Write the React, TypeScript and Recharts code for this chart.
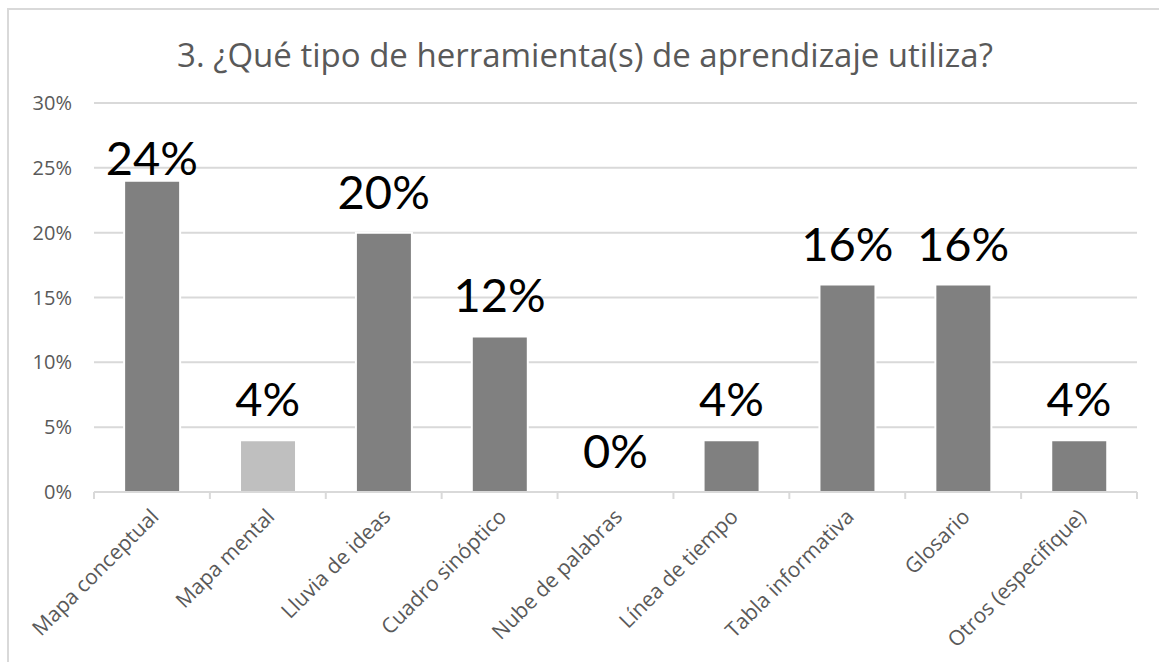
import React from 'react';
import { ComposedChart, Bar, Line, XAxis, YAxis, CartesianGrid, Cell, LabelList } from 'recharts';

const categories = [
  'Mapa conceptual',
  'Mapa mental',
  'Lluvia de ideas',
  'Cuadro sinóptico',
  'Nube de palabras',
  'Línea de tiempo',
  'Tabla informativa',
  'Glosario',
  'Otros (especifique)',
];
const percentages = [24, 4, 20, 12, 0, 4, 16, 16, 4];
const yTicks = [0, 5, 10, 15, 20, 25, 30];
const highlighted = 'Mapa mental';

const data = categories.map((name, i) => ({ name, value: percentages[i] }));

const GRID = '#d9d9d9';
const TEXT = '#595959';
const PLOT_TOP = 103;
const BAND = 1043 / categories.length;

const XTick = (props: any) => {
  const { x, y, payload, index } = props;
  const axisY = y - 8;
  const tx = x + 8;
  const ty = axisY + 26;
  return (
    <g>
      <line x1={x - BAND / 2} y1={axisY} x2={x - BAND / 2} y2={axisY + 7} stroke={GRID} strokeWidth={2} />
      {index === categories.length - 1 && (
        <line x1={x + BAND / 2} y1={axisY} x2={x + BAND / 2} y2={axisY + 7} stroke={GRID} strokeWidth={2} />
      )}
      <text
        x={tx}
        y={ty}
        textAnchor="end"
        transform={`rotate(-45 ${tx} ${ty})`}
        fill={TEXT}
        fontSize={21}
        fontFamily="'Open Sans', sans-serif"
      >
        {payload.value}
      </text>
    </g>
  );
};

const YTick = (props: any) => {
  const { x, y, payload } = props;
  return (
    <text x={x} y={y + 7} textAnchor="end" fill={TEXT} fontSize={20} fontFamily="'Open Sans', sans-serif">
      {`${payload.value}%`}
    </text>
  );
};

// value label above each bar (drawn from an invisible line so 0% shows too)
const ValueLabel = (props: any) => {
  const { x, y, value } = props;
  const baseline = Math.max(y - 24, PLOT_TOP + 72);
  return (
    <text x={x} y={baseline} textAnchor="middle" fill="#000" fontSize={47} fontFamily="Lato, sans-serif">
      {`${value}%`}
    </text>
  );
};

const App: React.FC = () => {
  return (
    <div style={{ position: 'absolute', left: 0, top: 0, width: 1159, height: 662, background: '#fff', overflow: 'hidden' }}>
      {/* chart frame */}
      <div style={{ position: 'absolute', left: 7, top: 8, width: 1200, height: 700, borderTop: `2px solid ${GRID}`, borderLeft: `2px solid ${GRID}` }} />
      <div
        style={{
          position: 'absolute',
          left: 0,
          width: 1170,
          top: 33,
          textAlign: 'center',
          fontFamily: "'Open Sans', sans-serif",
          fontSize: 33,
          lineHeight: '44px',
          color: TEXT,
        }}
      >
        3. ¿Qué tipo de herramienta(s) de aprendizaje utiliza?
      </div>
      <div style={{ position: 'absolute', left: 0, top: 0 }}>
        <ComposedChart width={1159} height={662} data={data} margin={{ top: PLOT_TOP, right: 22, left: 0, bottom: 0 }} barCategoryGap="26%">
          <CartesianGrid vertical={false} stroke={GRID} strokeWidth={2} />
          <YAxis
            domain={[0, 30]}
            ticks={yTicks}
            width={94}
            axisLine={false}
            tickLine={false}
            tickSize={0}
            tickMargin={22}
            tick={<YTick />}
            interval={0}
          />
          <XAxis
            dataKey="name"
            height={170}
            axisLine={{ stroke: GRID, strokeWidth: 2 }}
            tickLine={false}
            tickSize={0}
            tickMargin={8}
            interval={0}
            tick={<XTick />}
          />
          <Bar dataKey="value" isAnimationActive={false} stroke="#fff" strokeWidth={2}>
            {data.map((d) => (
              <Cell key={d.name} fill={d.name === highlighted ? '#bfbfbf' : '#808080'} />
            ))}
          </Bar>
          <Line dataKey="value" stroke="none" dot={false} activeDot={false} isAnimationActive={false} legendType="none">
            <LabelList dataKey="value" content={<ValueLabel />} />
          </Line>
        </ComposedChart>
      </div>
    </div>
  );
};

export default App;
